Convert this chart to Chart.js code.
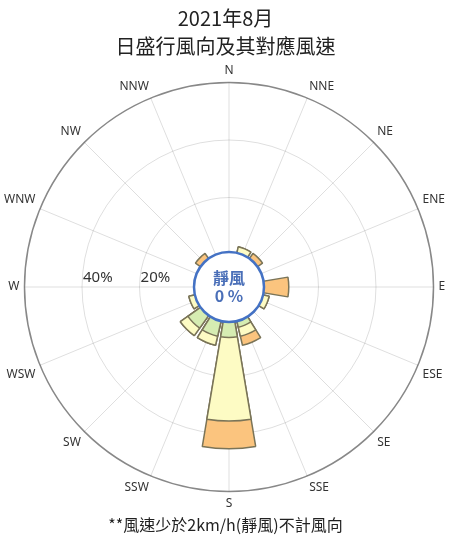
<!DOCTYPE html>
<html>
<head>
<meta charset="utf-8">
<script src="https://cdn.jsdelivr.net/npm/chart.js@4.4.1/dist/chart.umd.min.js"></script>
<style>
  html, body { margin: 0; padding: 0; background: #fff; }
  #wrap { width: 451px; height: 537px; }
</style>
</head>
<body>
<div id="wrap"><canvas id="rose"></canvas></div>
<script>
// 16 compass points, clockwise from north
const directions = ['N', 'NNE', 'NE', 'ENE', 'E', 'ESE', 'SE', 'SSE',
                    'S', 'SSW', 'SW', 'WSW', 'W', 'WNW', 'NW', 'NNW'];

// share of days (%) per direction, one array per wind-speed band (inner -> outer)
const speedLow  = [0, 0,    0,    0, 0,    0,    0, 3.23, 6.45,  6.45, 6.45, 0,    0, 0, 0,    0];
const speedMid  = [0, 3.23, 0,    0, 0,    3.23, 0, 3.23, 29.03, 3.23, 3.23, 3.23, 0, 0, 0,    0];
const speedHigh = [0, 0,    3.23, 0, 9.68, 0,    0, 3.23, 9.68,  0,    0,    0,    0, 0, 3.23, 0];

const ringTicks = [0, 20, 40, 60];
const ringLabels = [20, 40];
const calmPercent = 0;

const BAR_W = 19;            // degrees per bar
const GAP = 22.5 - BAR_W;    // degrees between bars

// cumulative totals so the rings can be layered on top of each other
const cumLow = speedLow.slice();
const cumMid = speedLow.map((v, i) => v + speedMid[i]);
const cumHigh = cumMid.map((v, i) => v + speedHigh[i]);

// interleave a gap slot before every bar so bars sit centred on the compass lines
function withGaps(arr) {
  const out = [];
  arr.forEach(v => { out.push(0); out.push(v); });
  return out;
}
const labels = [];
directions.forEach(d => { labels.push(''); labels.push(d); });

function ring(data, color) {
  return {
    data: withGaps(data),
    backgroundColor: c => c.dataIndex % 2 ? color : 'transparent',
    borderColor: c => c.dataIndex % 2 ? '#7a7458' : 'transparent',
    borderWidth: c => c.dataIndex % 2 ? 1.5 : 0,
    angle: c => c.dataIndex % 2 ? BAR_W : (c.dataIndex === 0 ? GAP / 2 : GAP)
  };
}

const calmCircle = {
  id: 'calmCircle',
  afterDraw(chart) {
    const r = chart.scales.r;
    const ctx = chart.ctx;
    ctx.save();
    ctx.font = '15px "Noto Sans", sans-serif';
    ctx.fillStyle = '#333';
    ctx.textAlign = 'left';
    ctx.textBaseline = 'bottom';
    ringLabels.forEach(v => {
      const d = r.getDistanceFromCenterForValue(v);
      ctx.fillText(v + '%', r.xCenter - d + 1, r.yCenter - 2);
    });

    ctx.beginPath();
    ctx.arc(r.xCenter, r.yCenter, 35, 0, Math.PI * 2);
    ctx.fillStyle = '#fff';
    ctx.fill();
    ctx.lineWidth = 2.5;
    ctx.strokeStyle = '#4472c4';
    ctx.stroke();

    ctx.fillStyle = '#4a6fb8';
    ctx.textAlign = 'center';
    ctx.textBaseline = 'middle';
    ctx.font = 'bold 16px "Noto Sans CJK TC", sans-serif';
    ctx.fillText('靜風', r.xCenter, r.yCenter - 9);
    ctx.fillText(calmPercent + ' %', r.xCenter, r.yCenter + 9);
    ctx.restore();
  }
};

new Chart(document.getElementById('rose'), {
  type: 'polarArea',
  data: {
    labels: labels,
    datasets: [
      ring(cumLow, '#d6ecb2'),
      ring(cumMid, '#fdfbc4'),
      ring(cumHigh, '#fbc47e')
    ]
  },
  options: {
    responsive: true,
    maintainAspectRatio: false,
    animation: false,
    plugins: {
      legend: { display: false },
      tooltip: { enabled: false },
      title: {
        display: true,
        text: ['2021年8月', '日盛行風向及其對應風速'],
        color: '#222',
        font: { family: '"Noto Sans CJK TC", sans-serif', size: 20, weight: 'normal', lineHeight: 1.4 },
        padding: { top: 4, bottom: 2 }
      },
      subtitle: {
        display: true,
        position: 'bottom',
        text: '**風速少於2km/h(靜風)不計風向',
        color: '#222',
        font: { family: '"Noto Sans CJK TC", sans-serif', size: 16 },
        padding: { top: 2, bottom: 2 }
      }
    },
    scales: {
      r: {
        z: 1,
        min: -11.1,
        max: 60,
        startAngle: -11.25,
        afterBuildTicks: scale => { scale.ticks = ringTicks.map(v => ({ value: v })); },
        ticks: { display: false },
        grid: {
          circular: true,
          color: c => c.tick && c.tick.value === 60 ? '#888' : 'rgba(0,0,0,0.13)',
          lineWidth: c => c.tick && c.tick.value === 60 ? 1.5 : 1
        },
        angleLines: {
          display: true,
          color: 'rgba(0,0,0,0.13)',
          lineWidth: c => c.label ? 1 : 0
        },
        pointLabels: {
          display: true,
          color: '#333',
          padding: 5,
          font: { family: '"Noto Sans", sans-serif', size: 12 }
        }
      }
    }
  },
  plugins: [calmCircle]
});
</script>
</body>
</html>
